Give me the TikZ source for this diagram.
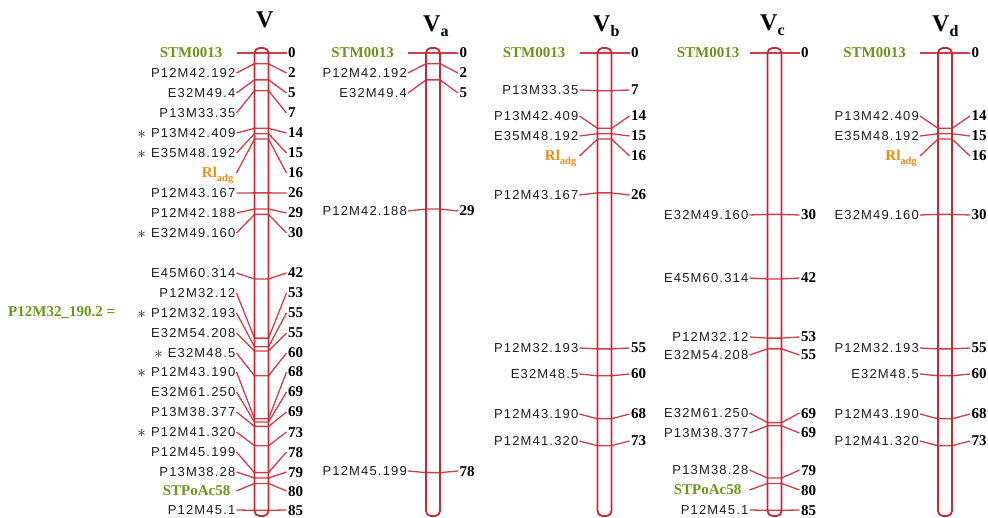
\documentclass[tikz,border=0pt]{standalone}
\usepackage{fontspec}
\setmainfont{Liberation Serif}
\newfontfamily\labfont[LetterSpace=9]{Liberation Sans}
\usetikzlibrary{calc}
\definecolor{chromred}{RGB}{200,40,55}
\definecolor{tickred}{RGB}{210,60,75}
\definecolor{labgray}{RGB}{30,30,30}
\definecolor{grn}{RGB}{105,150,25}
\definecolor{orn}{RGB}{240,140,20}
\newcommand\grn{\normalfont\bfseries\fontsize{15}{15}\selectfont\color{grn}}
\newcommand\rladg{{\normalfont\bfseries\fontsize{15}{15}\selectfont\color{orn}Rl\raisebox{-4pt}{\fontsize{10.5}{10.5}\selectfont adg}}}
\newcommand\st{\smash{\normalfont\fontsize{18}{18}\selectfont\raisebox{-0.5pt}{$\ast$}}\hspace{5pt}}
\newcommand\chromo[3]{%
  \foreach \ly/\cm/\dx/\lab/\num in {#3} {
    \pgfmathsetmacro\ty{53+5.38*\cm}
    \coordinate (#1-a\ly) at (#2-25,\ly);
    \coordinate (#1-b\ly) at (#2-7,\ty);
    \coordinate (#1-c\ly) at (#2+7,\ty);
    \coordinate (#1-d\ly) at (#2+25,\ly);
    \draw[tickline] (#1-a\ly) -- (#1-b\ly) -- (#1-c\ly) -- (#1-d\ly);
    \node[lab, anchor=east] (#1-l\ly) at ($(#1-a\ly)+(-0.5-\dx,0)$) {\lab};
    \node[num, anchor=west] (#1-n\ly) at ($(#1-d\ly)+(1,0)$) {\num};
  }
  \draw[chrom] (#2-7,48) rectangle (#2+7,516);
}
\tikzset{
  tickline/.style={draw=tickred, line width=1.3pt},
  chrom/.style={draw=chromred, line width=1.8pt, rounded corners=5pt},
  lab/.style={font=\labfont\fontsize{13}{13}\selectfont, text=labgray, inner sep=0.5pt, text height=9.5pt, text depth=0pt},
  num/.style={font=\bfseries\fontsize{15}{15}\selectfont, inner sep=0.5pt, text height=10pt, text depth=0pt},
  ttl/.style={font=\bfseries\fontsize{24}{24}\selectfont, inner sep=0pt},
  grnlab/.style={font=\grn, inner sep=0pt},
}
\begin{document}
\begin{tikzpicture}[x=1pt,y=-1pt]
\useasboundingbox (0,0) rectangle (988,518);
% titles
\node[ttl, anchor=base west] (tV) at (256,28) {V};
\node[ttl, anchor=base west] (tVa) at (423,32) {V\raisebox{-5pt}{\fontsize{16}{16}\selectfont a}};
\node[ttl, anchor=base west] (tVb) at (593,32) {V\raisebox{-5pt}{\fontsize{16}{16}\selectfont b}};
\node[ttl, anchor=base west] (tVc) at (760,31) {V\raisebox{-5pt}{\fontsize{16}{16}\selectfont c}};
\node[ttl, anchor=base west] (tVd) at (932,32) {V\raisebox{-5pt}{\fontsize{16}{16}\selectfont d}};
\node[grnlab, anchor=west] (eq) at (8,313) {P12M32\_190.2 =};
% chromosome V
\chromo{V}{261.5}{53/0/13/{\grn STM0013}/0,
73/2/0/P12M42.192/2,
93/5/0/E32M49.4/5,
113/7/0/P13M33.35/7,
133/14/0/{\st P13M42.409}/14,
153/15/0/{\st E35M48.192}/15,
173/16/2/{\rladg}/16,
193/26/0/P12M43.167/26,
213/29/0/P12M42.188/29,
233/30/0/{\st E32M49.160}/30,
273/42/0/E45M60.314/42,
293/53/0/P12M32.12/53,
313/54.6/0/{\st P12M32.193}/55,
333/55.4/0/E32M54.208/55,
353/60/0/{\st E32M48.5}/60,
372/68/0/{\st P12M43.190}/68,
392/68.6/0/E32M61.250/69,
412/69.4/0/P13M38.377/69,
432/73/0/{\st P12M41.320}/73,
452/78/0/P12M45.199/78,
472/79/0/P13M38.28/79,
491/80/5/{\grn STPoAc58}/80,
510/85/0/P12M45.1/85}
% chromosome Va
\chromo{Va}{433}{53/0/13/{\grn STM0013}/0,
73/2/0/P12M42.192/2,
93/5/0/E32M49.4/5,
211/29/0/P12M42.188/29,
471/78/0/P12M45.199/78}
% chromosome Vb
\chromo{Vb}{604.5}{53/0/13/{\grn STM0013}/0,
90/7/0/P13M33.35/7,
116/14/0/P13M42.409/14,
136/15/0/E35M48.192/15,
156/16/2/{\rladg}/16,
195/26/0/P12M43.167/26,
348/55/0/P12M32.193/55,
374/60/0/E32M48.5/60,
414/68/0/P12M43.190/68,
441/73/0/P12M41.320/73}
% chromosome Vc
\chromo{Vc}{774.5}{53/0/9/{\grn STM0013}/0,
215/30/0/E32M49.160/30,
278/42/0/E45M60.314/42,
337/53/0/P12M32.12/53,
355/55/0/E32M54.208/55,
413/68.7/0/E32M61.250/69,
433/69.3/0/P13M38.377/69,
470/79/0/P13M38.28/79,
490/80/7/{\grn STPoAc58}/80,
510/85/0/P12M45.1/85}
% chromosome Vd
\chromo{Vd}{945}{53/0/13/{\grn STM0013}/0,
116/14/0/P13M42.409/14,
136/15/0/E35M48.192/15,
156/16/2/{\rladg}/16,
215/30/0/E32M49.160/30,
348/55/0/P12M32.193/55,
374/60/0/E32M48.5/60,
414/68/0/P12M43.190/68,
441/73/0/P12M41.320/73}
\end{tikzpicture}
\end{document}
